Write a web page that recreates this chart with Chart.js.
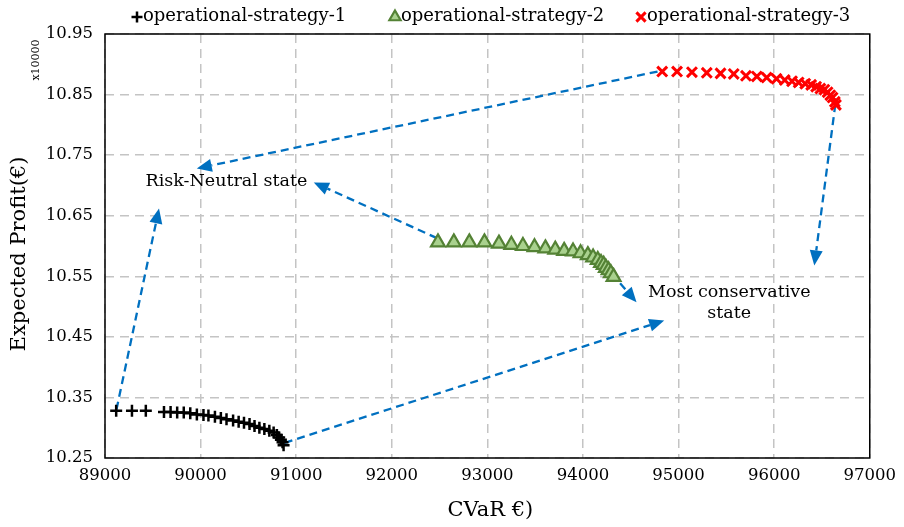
<!DOCTYPE html>
<html>
<head>
<meta charset="utf-8">
<script src="https://cdn.jsdelivr.net/npm/chart.js@4.4.1/dist/chart.umd.min.js"></script>
<style>
  html, body { margin: 0; padding: 0; background: #ffffff; }
  #wrap { width: 904px; height: 527px; }
</style>
</head>
<body>
<div id="wrap"><canvas id="chart" width="904" height="527"></canvas></div>
<script>
// Expected profit (x10000 €) against CVaR (€) for three operational strategies
const strategy1CVaR = [89117, 89282, 89427, 89617, 89686, 89755, 89824, 89892, 89961, 90030, 90082, 90150, 90212, 90271, 90340, 90398, 90454, 90512, 90564, 90615, 90667, 90719, 90764, 90798, 90822, 90840, 90857, 90868];
const strategy1Profit = [10.328, 10.328, 10.328, 10.326, 10.326, 10.325, 10.325, 10.324, 10.322, 10.321, 10.320, 10.318, 10.316, 10.314, 10.312, 10.310, 10.308, 10.306, 10.303, 10.300, 10.298, 10.295, 10.292, 10.288, 10.284, 10.280, 10.276, 10.271];

const strategy2CVaR = [92483, 92649, 92811, 92969, 93121, 93251, 93372, 93493, 93607, 93710, 93803, 93896, 93975, 94051, 94106, 94155, 94189, 94217, 94240, 94268, 94292, 94320];
const strategy2Profit = [10.606, 10.606, 10.606, 10.606, 10.604, 10.602, 10.600, 10.598, 10.596, 10.594, 10.592, 10.591, 10.588, 10.585, 10.581, 10.577, 10.572, 10.569, 10.564, 10.560, 10.555, 10.549];

const strategy3CVaR = [94829, 94984, 95140, 95295, 95439, 95577, 95705, 95819, 95922, 96025, 96111, 96187, 96256, 96325, 96387, 96439, 96483, 96525, 96559, 96587, 96611, 96635, 96646];
const strategy3Profit = [10.888, 10.888, 10.887, 10.886, 10.885, 10.884, 10.881, 10.880, 10.878, 10.876, 10.874, 10.872, 10.870, 10.868, 10.866, 10.863, 10.860, 10.858, 10.854, 10.849, 10.845, 10.838, 10.833];

const seriesNames = ['operational-strategy-1', 'operational-strategy-2', 'operational-strategy-3'];
const xTickValues = [89000, 90000, 91000, 92000, 93000, 94000, 95000, 96000, 97000];
const yTickValues = [10.25, 10.35, 10.45, 10.55, 10.65, 10.75, 10.85, 10.95];

// Dashed arrows between the end states and their captions (data units)
const arrowFromX = [94780, 92473, 96640, 94300, 90880, 89120];
const arrowFromY = [10.888, 10.613, 10.834, 10.555, 10.275, 10.330];
const arrowToX   = [89960, 91184, 96420, 94560, 94850, 89565];
const arrowToY   = [10.728, 10.705, 10.568, 10.507, 10.477, 10.662];

// Captions (data units)
const captionText = ['Risk-Neutral state', 'Most conservative', 'state'];
const captionX = [90270, 95530, 95530];
const captionY = [10.706, 10.524, 10.489];

const SERIF = '"DejaVu Serif", "Liberation Serif", serif';
const ARROW_BLUE = '#0070c0';

function toPoints(xs, ys) { return xs.map((x, i) => ({ x: x, y: ys[i] })); }

function drawArrow(ctx, x1, y1, x2, y2) {
  const ang = Math.atan2(y2 - y1, x2 - x1);
  const headLen = 15, headHalf = 6.5;
  const bx = x2 - Math.cos(ang) * headLen;
  const by = y2 - Math.sin(ang) * headLen;
  ctx.save();
  ctx.strokeStyle = ARROW_BLUE;
  ctx.lineWidth = 2.3;
  ctx.setLineDash([8, 5]);
  ctx.beginPath();
  ctx.moveTo(x1, y1);
  ctx.lineTo(bx, by);
  ctx.stroke();
  ctx.setLineDash([]);
  ctx.fillStyle = ARROW_BLUE;
  ctx.beginPath();
  ctx.moveTo(x2, y2);
  ctx.lineTo(bx + Math.sin(ang) * headHalf, by - Math.cos(ang) * headHalf);
  ctx.lineTo(bx - Math.sin(ang) * headHalf, by + Math.cos(ang) * headHalf);
  ctx.closePath();
  ctx.fill();
  ctx.restore();
}

const decorations = {
  id: 'decorations',
  beforeDatasetsDraw(chart) {
    const ctx = chart.ctx, xs = chart.scales.x, ys = chart.scales.y;
    for (let i = 0; i < arrowFromX.length; i++) {
      drawArrow(ctx,
        xs.getPixelForValue(arrowFromX[i]), ys.getPixelForValue(arrowFromY[i]),
        xs.getPixelForValue(arrowToX[i]), ys.getPixelForValue(arrowToY[i]));
    }
  },
  afterDraw(chart) {
    const ctx = chart.ctx, a = chart.chartArea, xs = chart.scales.x, ys = chart.scales.y;
    ctx.save();
    // plot frame
    ctx.strokeStyle = '#000000';
    ctx.lineWidth = 1.5;
    ctx.strokeRect(a.left, a.top, a.right - a.left, a.bottom - a.top);

    // captions
    ctx.fillStyle = '#000000';
    ctx.font = '17.5px ' + SERIF;
    ctx.textAlign = 'center';
    ctx.textBaseline = 'middle';
    for (let i = 0; i < captionText.length; i++) {
      ctx.fillText(captionText[i], xs.getPixelForValue(captionX[i]), ys.getPixelForValue(captionY[i]));
    }

    // axis titles
    ctx.font = '21px ' + SERIF;
    ctx.fillText('CVaR €)', (a.left + a.right) / 2 + 3, 511);
    ctx.save();
    ctx.translate(20, 254);
    ctx.rotate(-Math.PI / 2);
    ctx.fillText('Expected Profit(€)', 0, 0);
    ctx.restore();
    ctx.save();
    ctx.font = '11px ' + SERIF;
    ctx.translate(36, 60);
    ctx.rotate(-Math.PI / 2);
    ctx.fillText('x10000', 0, 0);
    ctx.restore();

    // legend
    const ly = 16;
    ctx.font = '18px ' + SERIF;
    ctx.textAlign = 'left';
    const itemX = [131, 389, 635];
    const ds = chart.data.datasets;
    for (let i = 0; i < ds.length; i++) {
      const d = ds[i];
      ctx.save();
      ctx.fillStyle = d.backgroundColor;
      ctx.strokeStyle = d.borderColor;
      ctx.lineWidth = d.borderWidth;
      Chart.helpers.drawPoint(ctx, {
        pointStyle: d.pointStyle, radius: d.legendRadius, rotation: 0,
        borderWidth: d.borderWidth
      }, itemX[i] + 6, ly + 1);
      ctx.restore();
      ctx.fillStyle = '#000000';
      ctx.fillText(seriesNames[i], itemX[i] + 12, ly);
    }
    ctx.restore();
  }
};

const chart = new Chart(document.getElementById('chart'), {
  type: 'scatter',
  data: {
    datasets: [
      {
        label: seriesNames[0],
        data: toPoints(strategy1CVaR, strategy1Profit),
        pointStyle: 'cross', pointRadius: 6, legendRadius: 5.5,
        borderColor: '#000000', backgroundColor: '#000000', borderWidth: 2.5,
        showLine: false
      },
      {
        label: seriesNames[1],
        data: toPoints(strategy2CVaR, strategy2Profit),
        pointStyle: 'triangle', pointRadius: 8, legendRadius: 6.5,
        borderColor: '#548235', backgroundColor: '#a9d18e', borderWidth: 2.2,
        showLine: false
      },
      {
        label: seriesNames[2],
        data: toPoints(strategy3CVaR, strategy3Profit),
        pointStyle: 'crossRot', pointRadius: 7, legendRadius: 6.5,
        borderColor: '#ff0000', backgroundColor: '#ff0000', borderWidth: 3,
        showLine: false
      }
    ]
  },
  options: {
    responsive: false,
    animation: false,
    devicePixelRatio: 1,
    layout: { padding: { top: 34, right: 21, left: 0, bottom: 0 } },
    plugins: { legend: { display: false }, tooltip: { enabled: false } },
    elements: { point: { hoverRadius: 0 } },
    scales: {
      x: {
        type: 'linear',
        min: 89000, max: 97000,
        afterBuildTicks(scale) { scale.ticks = xTickValues.map(v => ({ value: v })); },
        afterFit(scale) { scale.height = 69; },
        ticks: {
          color: '#000000', padding: 8, maxRotation: 0, autoSkip: false,
          font: { family: SERIF, size: 16.5 },
          callback: v => String(v)
        },
        grid: { color: '#c4c4c4', lineWidth: 1.5, drawTicks: false },
        border: { display: false, dash: [9, 6] }
      },
      y: {
        type: 'linear',
        min: 10.25, max: 10.95,
        afterBuildTicks(scale) { scale.ticks = yTickValues.map(v => ({ value: v })); },
        afterFit(scale) { scale.width = 105; },
        ticks: {
          color: '#000000', padding: 12, autoSkip: false,
          font: { family: SERIF, size: 16.5 },
          callback: v => Number(v).toFixed(2)
        },
        grid: { color: '#c4c4c4', lineWidth: 1.5, drawTicks: false },
        border: { display: false, dash: [9, 6] }
      }
    }
  },
  plugins: [decorations]
});
</script>
</body>
</html>
